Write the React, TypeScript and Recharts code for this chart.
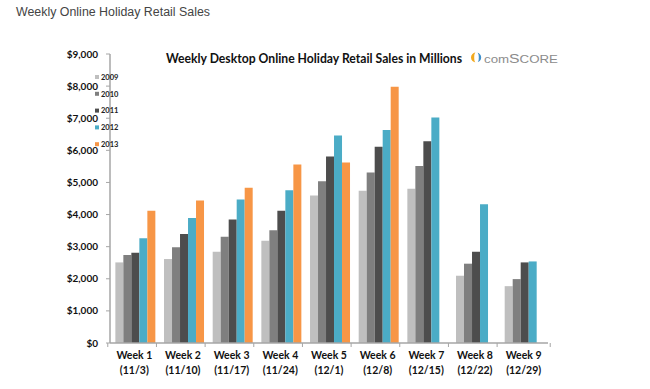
import React from 'react';
import { BarChart, Bar, XAxis, YAxis, Legend } from 'recharts';

const weeks = ['Week 1', 'Week 2', 'Week 3', 'Week 4', 'Week 5', 'Week 6', 'Week 7', 'Week 8', 'Week 9'];
const dates = ['(11/3)', '(11/10)', '(11/17)', '(11/24)', '(12/1)', '(12/8)', '(12/15)', '(12/22)', '(12/29)'];
const sales2009 = [2510, 2615, 2845, 3185, 4595, 4740, 4800, 2095, 1770];
const sales2010 = [2740, 2980, 3310, 3510, 5040, 5310, 5510, 2470, 1990];
const sales2011 = [2810, 3395, 3845, 4115, 5810, 6115, 6280, 2845, 2510];
const sales2012 = [3260, 3895, 4470, 4760, 6460, 6635, 7020, 4320, 2540];
const sales2013: (number | null)[] = [4115, 4440, 4835, 5560, 5625, 7980, null, null, null];
const yTicks = [0, 1000, 2000, 3000, 4000, 5000, 6000, 7000, 8000, 9000];

const seriesKeys = ['2009', '2010', '2011', '2012', '2013'];
const seriesColors = ['#BFBFBF', '#7F7F7F', '#4D4D4D', '#4BACC6', '#F79646'];
const seriesValues = [sales2009, sales2010, sales2011, sales2012, sales2013];

const data = weeks.map((w, i) => {
  const row: Record<string, any> = { week: w, date: dates[i] };
  seriesKeys.forEach((k, s) => {
    row[k] = seriesValues[s][i];
  });
  return row;
});

const W = 650;
const H = 389;
const LEFT = 70;
const RIGHT = 102;
const TOP = 54;
const XH = 46;
const BAND = (W - LEFT - RIGHT) / weeks.length;
const FONT = 'Lato, "Noto Sans", sans-serif';

const XTick = (props: any) => {
  const { x, y, payload, index } = props;
  const d = dates[index] ?? '';
  return (
    <g>
      <line x1={x - BAND / 2} x2={x - BAND / 2} y1={y} y2={y + 4} stroke="#A6A6A6" strokeWidth={1} />
      {index === weeks.length - 1 && (
        <line x1={x + BAND / 2} x2={x + BAND / 2} y1={y} y2={y + 4} stroke="#A6A6A6" strokeWidth={1} />
      )}
      <text x={x} y={y + 16} textAnchor="middle" fontFamily={FONT} fontWeight={700} fontSize={10.5} fill="#111">
        {payload.value}
      </text>
      <text x={x} y={y + 31} textAnchor="middle" fontFamily={FONT} fontWeight={700} fontSize={10.5} fill="#111">
        {d}
      </text>
    </g>
  );
};

const LegendContent = () => (
  <svg width={40} height={90} style={{ display: 'block' }}>
    {seriesKeys.map((k, i) => {
      const cy = 6 + i * 16.8;
      return (
        <g key={k}>
          <rect x={0} y={cy - 2} width={4} height={4} fill={seriesColors[i]} />
          <text x={6} y={cy + 2.7} fontFamily={FONT} fontWeight={700} fontSize={7.5} fill="#222">
            {k}
          </text>
        </g>
      );
    })}
  </svg>
);

export default function App() {
  return (
    <div style={{ position: 'absolute', left: 0, top: 0, width: W, height: H, background: '#fff' }}>
      <BarChart
        width={W}
        height={H}
        data={data}
        margin={{ top: TOP, right: RIGHT, bottom: 0, left: 0 }}
        barCategoryGap="11%"
        barGap={0}
      >
        <XAxis
          dataKey="week"
          height={XH}
          interval={0}
          tickLine={false}
          tickSize={0}
          tickMargin={0}
          axisLine={{ stroke: '#A6A6A6', strokeWidth: 1.5 }}
          tick={<XTick />}
        />
        <YAxis
          width={LEFT}
          domain={[0, 9000]}
          ticks={yTicks}
          interval={0}
          tickSize={4}
          tickMargin={8}
          tickLine={{ stroke: '#A6A6A6' }}
          axisLine={{ stroke: '#A6A6A6', strokeWidth: 1.5 }}
          tickFormatter={(v: number) => '$' + v.toLocaleString('en-US')}
          tick={{ fontFamily: FONT, fontWeight: 700, fontSize: 10, fill: '#111' }}
        />
        <Legend
          content={<LegendContent />}
          layout="vertical"
          verticalAlign="top"
          align="left"
          wrapperStyle={{ position: 'absolute', left: 95, top: 71, width: 40 }}
        />
        {seriesKeys.map((k, i) => (
          <Bar key={k} dataKey={k} name={k} fill={seriesColors[i]} isAnimationActive={false} />
        ))}
      </BarChart>
      <svg width={W} height={H} style={{ position: 'absolute', left: 0, top: 0, pointerEvents: 'none' }}>
        <text x={16} y={16} fontFamily='"Liberation Sans", Arial, sans-serif' fontSize={12} fill="#444" textLength={194} lengthAdjust="spacingAndGlyphs">
          Weekly Online Holiday Retail Sales
        </text>
        <text x={166} y={63} fontFamily={FONT} fontWeight={700} fontSize={12.5} fill="#111" textLength={296} lengthAdjust="spacingAndGlyphs">
          Weekly Desktop Online Holiday Retail Sales in Millions
        </text>
        <path d="M476,52.5 A5,5 0 0 0 476,62.5 A1.8,5 0 0 1 476,52.5 Z" fill="#F2A91E" />
        <path d="M477,52.8 A4.2,4.7 0 0 1 477,62.2 A1.8,4.7 0 0 0 477,52.8 Z" fill="#3F8FCB" />
        <text x={484} y={62.5} fontFamily='"Liberation Sans", Arial, sans-serif' fontSize={11} fill="#8C8C8C" textLength={74} lengthAdjust="spacingAndGlyphs">
          <tspan fontSize={10.5}>com</tspan>
          <tspan fontSize={12.5}>S</tspan>
          <tspan fontSize={10.5}>CORE</tspan>
        </text>
      </svg>
    </div>
  );
}
